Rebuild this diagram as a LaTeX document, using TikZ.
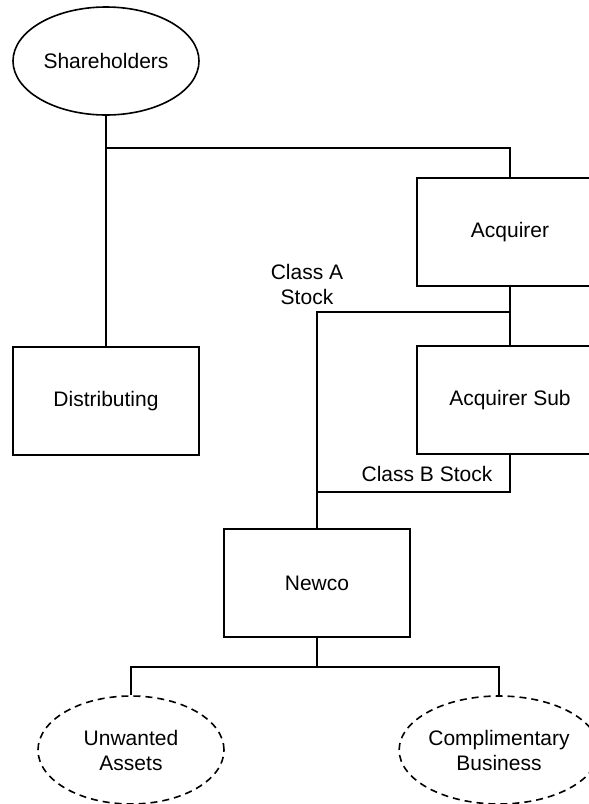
\documentclass[tikz,border=0pt]{standalone}
\usepackage{fontspec}
\setmainfont{Liberation Sans}
\usetikzlibrary{positioning,shapes.geometric}

\begin{document}
\begin{tikzpicture}[x=0.5pt,y=-0.5pt,line width=0.8pt,
  font=\fontsize{10.5}{12.5}\selectfont,
  entity/.style={draw,rectangle,minimum width=93pt,minimum height=54pt,inner sep=0pt},
  owner/.style={draw,ellipse,minimum width=93pt,minimum height=54pt,inner sep=0pt,align=center},
  asset/.style={owner,dash pattern=on 3.5pt off 2.5pt},
  lbl/.style={align=center,inner sep=0pt}]
  \useasboundingbox (0,0) rectangle (589,804);
  \begin{scope}
  \clip (0,0) rectangle (589,804);
  % entities
  \node[owner] (share) at (106,61) {Shareholders};
  \node[entity] (dist) at (106,401) {Distributing};
  \node[entity] (acq) at (510,232) {Acquirer};
  \node[entity] (acqsub) at (510,400) {Acquirer Sub};
  \node[entity] (newco) at (317,583) {Newco};
  \node[asset] (unw) at (131,750) {Unwanted\\Assets};
  \node[asset] (comp) at (499,750) {Complimentary\\Business};
  % junctions
  \coordinate (j1) at (106,148);
  \coordinate (j2) at (510,312);
  \coordinate (j3) at (317,492);
  \coordinate (j4) at (317,667);
  % connectors
  \draw (share) -- (dist);
  \draw (j1) -| (acq);
  \draw (acq) -- (acqsub);
  \draw (j2) -| (newco);
  \draw (acqsub) |- (j3);
  \draw (newco) -- (j4);
  \draw (j4) -| (unw);
  \draw (j4) -| (comp);
  % stock labels
  \node[lbl] (clsA) at (307,284) {Class A\\Stock};
  \node[lbl] (clsB) at (427,474) {Class B Stock};
  \end{scope}
\end{tikzpicture}
\end{document}
